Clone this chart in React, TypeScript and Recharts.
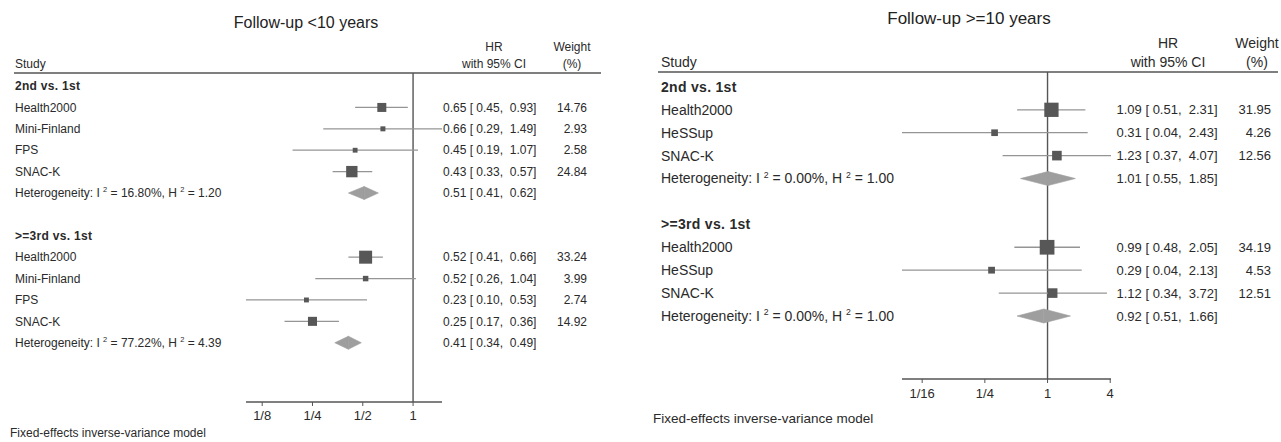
import React from 'react';
import { ScatterChart, Scatter, XAxis, YAxis, ZAxis, ReferenceLine } from 'recharts';

// Follow-up < 10 years
const shortTitle = 'Follow-up <10 years';
const shortStudies = ['Health2000', 'Mini-Finland', 'FPS', 'SNAC-K'];
const shortHr2nd = [0.65, 0.66, 0.45, 0.43];
const shortLo2nd = [0.45, 0.29, 0.19, 0.33];
const shortHi2nd = [0.93, 1.49, 1.07, 0.57];
const shortWeight2nd = [14.76, 2.93, 2.58, 24.84];
const shortPooled2nd = [0.51, 0.41, 0.62];
const shortHet2nd = ['16.80%', '1.20'];
const shortHr3rd = [0.52, 0.52, 0.23, 0.25];
const shortLo3rd = [0.41, 0.26, 0.1, 0.17];
const shortHi3rd = [0.66, 1.04, 0.53, 0.36];
const shortWeight3rd = [33.24, 3.99, 2.74, 14.92];
const shortPooled3rd = [0.41, 0.34, 0.49];
const shortHet3rd = ['77.22%', '4.39'];
const shortTicks = [0.125, 0.25, 0.5, 1];

// Follow-up >= 10 years
const longTitle = 'Follow-up >=10 years';
const longStudies = ['Health2000', 'HeSSup', 'SNAC-K'];
const longHr2nd = [1.09, 0.31, 1.23];
const longLo2nd = [0.51, 0.04, 0.37];
const longHi2nd = [2.31, 2.43, 4.07];
const longWeight2nd = [31.95, 4.26, 12.56];
const longPooled2nd = [1.01, 0.55, 1.85];
const longHet2nd = ['0.00%', '1.00'];
const longHr3rd = [0.99, 0.29, 1.12];
const longLo3rd = [0.48, 0.04, 0.34];
const longHi3rd = [2.05, 2.13, 3.72];
const longWeight3rd = [34.19, 4.53, 12.51];
const longPooled3rd = [0.92, 0.51, 1.66];
const longHet3rd = ['0.00%', '1.00'];
const longTicks = [0.0625, 0.25, 1, 4];

const groupLabels = ['2nd vs. 1st', '>=3rd vs. 1st'];
const footnote = 'Fixed-effects inverse-variance model';

type Group = {
  label: string;
  hr: number[];
  lo: number[];
  hi: number[];
  weight: number[];
  pooled: number[];
  het: string[];
};

type Row = {
  y: number;
  kind: 'head' | 'study' | 'het' | 'blank';
  label: string;
  hr?: number;
  lo?: number;
  hi?: number;
  w?: number;
  het?: string[];
};

type Layout = {
  left: number;
  width: number;
  plotLeft: number;
  plotRight: number;
  plotTop: number;
  plotBottom: number;
  padTop: number;
  padBottom: number;
  font: number;
  valueFont: number;
  tickFont: number;
  tickMargin: number;
  labelX: number;
  valueX: number;
  weightX: number;
  hrHeadX: number;
  weightHeadX: number;
  head1Y: number;
  head2Y: number;
  ruleX1: number;
  ruleX2: number;
  titleX: number;
  titleY: number;
  titleSize: number;
  footX: number;
  footY: number;
  footSize: number;
  diamondHalf: number;
  sizeRange: [number, number];
};

const shortLayout: Layout = {
  left: 0, width: 610,
  plotLeft: 246, plotRight: 442, plotTop: 73, plotBottom: 402,
  padTop: 0.61, padBottom: 2.77,
  font: 12, valueFont: 12, tickFont: 13, tickMargin: 5,
  labelX: 15, valueX: 443, weightX: 587, hrHeadX: 494, weightHeadX: 572,
  head1Y: 47, head2Y: 63.5, ruleX1: 14, ruleX2: 601,
  titleX: 306, titleY: 28, titleSize: 16,
  footX: 10, footY: 433, footSize: 12,
  diamondHalf: 6.5, sizeRange: [11, 201],
};

const longLayout: Layout = {
  left: 640, width: 641,
  plotLeft: 262, plotRight: 471, plotTop: 72, plotBottom: 379,
  padTop: 0.65, padBottom: 2.75,
  font: 14, valueFont: 13, tickFont: 13, tickMargin: 6,
  labelX: 21, valueX: 476.5, weightX: 631, hrHeadX: 528, weightHeadX: 617,
  head1Y: 43.5, head2Y: 62.5, ruleX1: 18, ruleX2: 638,
  titleX: 329, titleY: 24, titleSize: 17,
  footX: 13, footY: 418, footSize: 13.5,
  diamondHalf: 7, sizeRange: [20, 250],
};

const TEXT = '#2a2a2a';
const AXIS = '#555';
const CI = '#959595';
const BOX = '#575757';
const DIAMOND = '#9e9e9e';

function buildRows(studies: string[], groups: Group[]): Row[] {
  const rows: Row[] = [];
  groups.forEach((g, gi) => {
    rows.push({ y: rows.length, kind: 'head', label: g.label });
    studies.forEach((s, i) => {
      rows.push({ y: rows.length, kind: 'study', label: s, hr: g.hr[i], lo: g.lo[i], hi: g.hi[i], w: g.weight[i] });
    });
    rows.push({ y: rows.length, kind: 'het', label: 'Heterogeneity', hr: g.pooled[0], lo: g.pooled[1], hi: g.pooled[2], het: g.het });
    if (gi < groups.length - 1) rows.push({ y: rows.length, kind: 'blank', label: '' });
  });
  return rows;
}

const fmtTick = (v: number) => (v >= 1 ? `${v}` : `1/${Math.round(1 / v)}`);
const fmtCi = (r: Row) => `${r.hr!.toFixed(2)} [ ${r.lo!.toFixed(2)},  ${r.hi!.toFixed(2)}]`;

function rowTick(rows: Row[], L: Layout) {
  return (props: any) => {
    const row = rows.find((r) => r.y === props.payload.value);
    if (!row || row.kind === 'blank') return <g />;
    const base = props.y + L.font * 0.35;
    const vBase = props.y + L.valueFont * 0.35;
    const sup = L.font * 0.62;
    const lift = L.font * 0.42;
    const hasEstimate = row.kind === 'study' || row.kind === 'het';
    return (
      <g>
        {row.kind === 'head' && (
          <text x={L.labelX} y={base} fontSize={L.font} fontWeight="bold" fill={TEXT} letterSpacing={0.3}>
            {row.label}
          </text>
        )}
        {row.kind === 'study' && (
          <text x={L.labelX} y={base} fontSize={L.font} fill={TEXT}>
            {row.label}
          </text>
        )}
        {row.kind === 'het' && row.het && (
          <text x={L.labelX} y={base} fontSize={L.font} fill={TEXT}>
            <tspan>{'Heterogeneity: I '}</tspan>
            <tspan dy={-lift} fontSize={sup}>2</tspan>
            <tspan dy={lift}>{` = ${row.het[0]}, H `}</tspan>
            <tspan dy={-lift} fontSize={sup}>2</tspan>
            <tspan dy={lift}>{` = ${row.het[1]}`}</tspan>
          </text>
        )}
        {hasEstimate && (
          <text x={L.valueX} y={vBase} fontSize={L.valueFont} fill={TEXT} style={{ whiteSpace: 'pre' }}>
            {fmtCi(row)}
          </text>
        )}
        {row.kind === 'study' && row.w !== undefined && (
          <text x={L.weightX} y={vBase} fontSize={L.valueFont} fill={TEXT} textAnchor="end">
            {row.w.toFixed(2)}
          </text>
        )}
      </g>
    );
  };
}

// pooled estimate drawn as two triangles meeting at the point estimate
const lowerHalf = (h: number) => (p: any) => (
  <polygon points={`${p.x1},${p.y1} ${p.x2},${p.y2 - h} ${p.x2},${p.y2 + h}`} fill={DIAMOND} stroke={DIAMOND} strokeWidth={0.6} />
);
const upperHalf = (h: number) => (p: any) => (
  <polygon points={`${p.x1},${p.y1 - h} ${p.x2},${p.y2} ${p.x1},${p.y1 + h}`} fill={DIAMOND} stroke={DIAMOND} strokeWidth={0.6} />
);

type PanelProps = { title: string; rows: Row[]; ticks: number[]; L: Layout };

const ForestPanel: React.FC<PanelProps> = ({ title, rows, ticks, L }) => {
  const studies = rows.filter((r) => r.kind === 'study');
  const pooled = rows.filter((r) => r.kind === 'het');
  const points = studies.map((r) => ({ x: r.hr, y: r.y, w: r.w }));
  const xMin = Math.min(...studies.map((r) => r.lo!), ...pooled.map((r) => r.lo!));
  const xMax = Math.max(...studies.map((r) => r.hi!), ...pooled.map((r) => r.hi!));
  const H = 442;

  return (
    <div style={{ position: 'absolute', left: L.left, top: 0, width: L.width, height: H }}>
      <ScatterChart
        width={L.width}
        height={H}
        margin={{ top: L.plotTop, right: L.width - L.plotRight, bottom: 0, left: 0 }}
      >
        <XAxis
          type="number"
          dataKey="x"
          scale="log"
          domain={[xMin, xMax]}
          ticks={ticks}
          interval={0}
          allowDataOverflow
          tickFormatter={fmtTick}
          height={H - L.plotBottom}
          axisLine={{ stroke: AXIS, strokeWidth: 1.3 }}
          tickLine={{ stroke: AXIS }}
          tickSize={4}
          tickMargin={L.tickMargin}
          tick={{ fill: TEXT, fontSize: L.tickFont }}
        />
        <YAxis
          type="number"
          dataKey="y"
          reversed
          allowDataOverflow
          domain={[-L.padTop, rows.length - 1 + L.padBottom]}
          ticks={rows.map((r) => r.y)}
          interval={0}
          width={L.plotLeft}
          axisLine={false}
          tickLine={false}
          tick={rowTick(rows, L)}
        />
        <ZAxis type="number" dataKey="w" domain={[0, 40]} range={L.sizeRange} />
        <ReferenceLine x={1} stroke={AXIS} strokeWidth={1.4} ifOverflow="visible" />
        {studies.map((r) => (
          <ReferenceLine
            key={`ci-${r.y}`}
            segment={[{ x: r.lo, y: r.y }, { x: r.hi, y: r.y }]}
            stroke={CI}
            strokeWidth={1.3}
            ifOverflow="visible"
          />
        ))}
        {pooled.map((r) => (
          <ReferenceLine
            key={`dl-${r.y}`}
            segment={[{ x: r.lo, y: r.y }, { x: r.hr, y: r.y }]}
            shape={lowerHalf(L.diamondHalf)}
            ifOverflow="visible"
          />
        ))}
        {pooled.map((r) => (
          <ReferenceLine
            key={`du-${r.y}`}
            segment={[{ x: r.hr, y: r.y }, { x: r.hi, y: r.y }]}
            shape={upperHalf(L.diamondHalf)}
            ifOverflow="visible"
          />
        ))}
        <Scatter data={points} shape="square" fill={BOX} isAnimationActive={false} />
      </ScatterChart>
      <svg
        width={L.width}
        height={H}
        style={{ position: 'absolute', left: 0, top: 0, pointerEvents: 'none' }}
      >
        <text x={L.titleX} y={L.titleY} textAnchor="middle" fontSize={L.titleSize} fill="#222">
          {title}
        </text>
        <text x={L.labelX} y={L.head2Y + L.font * 0.35} fontSize={L.font} fill={TEXT}>Study</text>
        <text x={L.hrHeadX} y={L.head1Y + L.font * 0.35} fontSize={L.font} fill={TEXT} textAnchor="middle">HR</text>
        <text x={L.hrHeadX} y={L.head2Y + L.font * 0.35} fontSize={L.font} fill={TEXT} textAnchor="middle">with 95% CI</text>
        <text x={L.weightHeadX} y={L.head1Y + L.font * 0.35} fontSize={L.font} fill={TEXT} textAnchor="middle">Weight</text>
        <text x={L.weightHeadX} y={L.head2Y + L.font * 0.35} fontSize={L.font} fill={TEXT} textAnchor="middle">(%)</text>
        <line x1={L.ruleX1} x2={L.ruleX2} y1={L.plotTop} y2={L.plotTop} stroke={AXIS} strokeWidth={1.5} />
        <text x={L.footX} y={L.footY + L.footSize * 0.35} fontSize={L.footSize} fill={TEXT}>
          {footnote}
        </text>
      </svg>
    </div>
  );
};

const shortRows = buildRows(shortStudies, [
  { label: groupLabels[0], hr: shortHr2nd, lo: shortLo2nd, hi: shortHi2nd, weight: shortWeight2nd, pooled: shortPooled2nd, het: shortHet2nd },
  { label: groupLabels[1], hr: shortHr3rd, lo: shortLo3rd, hi: shortHi3rd, weight: shortWeight3rd, pooled: shortPooled3rd, het: shortHet3rd },
]);

const longRows = buildRows(longStudies, [
  { label: groupLabels[0], hr: longHr2nd, lo: longLo2nd, hi: longHi2nd, weight: longWeight2nd, pooled: longPooled2nd, het: longHet2nd },
  { label: groupLabels[1], hr: longHr3rd, lo: longLo3rd, hi: longHi3rd, weight: longWeight3rd, pooled: longPooled3rd, het: longHet3rd },
]);

export default function App() {
  return (
    <div
      style={{
        position: 'absolute',
        left: 0,
        top: 0,
        width: 1281,
        height: 442,
        background: '#fff',
        overflow: 'hidden',
        fontFamily: '"Liberation Sans", Arial, sans-serif',
      }}
    >
      <ForestPanel title={shortTitle} rows={shortRows} ticks={shortTicks} L={shortLayout} />
      <ForestPanel title={longTitle} rows={longRows} ticks={longTicks} L={longLayout} />
    </div>
  );
}
